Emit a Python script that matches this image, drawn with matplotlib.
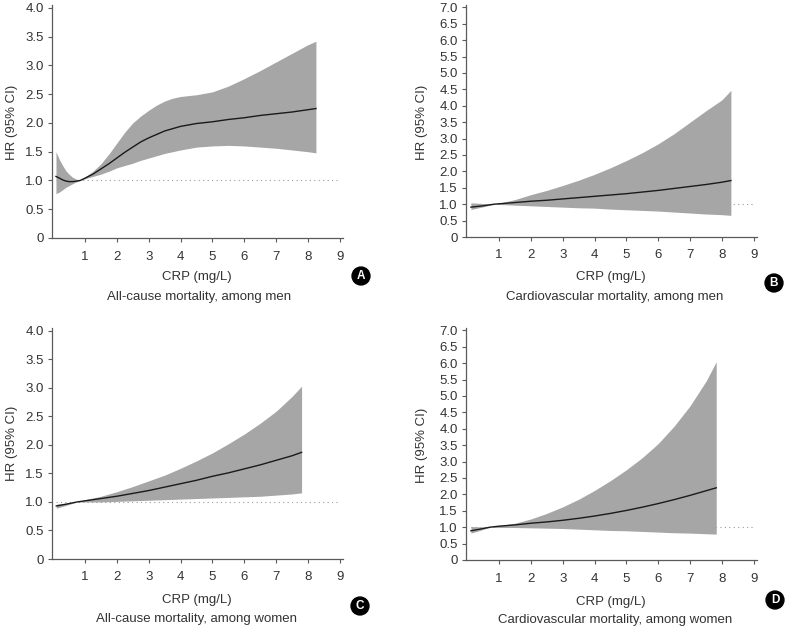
import matplotlib.pyplot as plt

plt.rcParams['font.family'] = ['Liberation Sans', 'DejaVu Sans']

# ---- data ----
# A: all-cause mortality, men
xa = [0.09, 0.2, 0.3, 0.4, 0.5, 0.6, 0.7, 0.85, 1.0, 1.25, 1.5, 1.75, 2.0, 2.25, 2.5,
      2.75, 3.0, 3.25, 3.5, 3.75, 4.0, 4.5, 5.0, 5.5, 6.0, 6.5, 7.0, 7.5, 8.0, 8.25]
hr_a = [1.07, 1.04, 1.01, 0.99, 0.98, 0.98, 0.985, 1.0, 1.04, 1.11, 1.20, 1.29, 1.39, 1.49, 1.58,
        1.67, 1.74, 1.80, 1.86, 1.90, 1.94, 1.99, 2.02, 2.06, 2.09, 2.13, 2.16, 2.19, 2.23, 2.25]
up_a = [1.50, 1.36, 1.26, 1.17, 1.11, 1.06, 1.03, 1.0, 1.06, 1.16, 1.29, 1.46, 1.65, 1.84, 2.00,
        2.12, 2.22, 2.31, 2.38, 2.43, 2.46, 2.49, 2.54, 2.64, 2.77, 2.91, 3.06, 3.21, 3.36, 3.42]
lo_a = [0.77, 0.80, 0.84, 0.88, 0.91, 0.94, 0.97, 1.0, 1.03, 1.07, 1.11, 1.16, 1.22, 1.26, 1.30,
        1.35, 1.39, 1.43, 1.47, 1.50, 1.53, 1.58, 1.60, 1.61, 1.60, 1.58, 1.56, 1.53, 1.50, 1.48]

# B: cardiovascular mortality, men
xb = [0.12, 0.5, 0.85, 1.5, 2.0, 2.5, 3.0, 3.5, 4.0, 4.5, 5.0, 5.5, 6.0, 6.5, 7.0, 7.5, 8.0, 8.28]
hr_b = [0.91, 0.95, 1.0, 1.05, 1.09, 1.12, 1.16, 1.20, 1.24, 1.28, 1.32, 1.37, 1.42, 1.48,
        1.54, 1.60, 1.67, 1.72]
up_b = [1.04, 1.02, 1.0, 1.14, 1.29, 1.42, 1.57, 1.73, 1.91, 2.11, 2.33, 2.57, 2.84, 3.15,
        3.50, 3.85, 4.18, 4.47]
lo_b = [0.84, 0.92, 1.0, 0.97, 0.95, 0.93, 0.91, 0.89, 0.88, 0.85, 0.83, 0.81, 0.79, 0.76,
        0.73, 0.70, 0.68, 0.66]

# C: all-cause mortality, women
xc = [0.1, 0.4, 0.75, 1.0, 1.5, 2.0, 2.5, 3.0, 3.5, 4.0, 4.5, 5.0, 5.5, 6.0, 6.5, 7.0, 7.5, 7.8]
hr_c = [0.93, 0.96, 1.0, 1.02, 1.06, 1.10, 1.15, 1.20, 1.26, 1.32, 1.38, 1.45, 1.51, 1.58,
        1.65, 1.73, 1.81, 1.87]
up_c = [0.96, 0.98, 1.0, 1.04, 1.10, 1.18, 1.27, 1.37, 1.47, 1.59, 1.72, 1.86, 2.02, 2.19,
        2.38, 2.59, 2.85, 3.03]
lo_c = [0.89, 0.94, 1.0, 1.0, 1.0, 1.01, 1.02, 1.03, 1.04, 1.05, 1.06, 1.07, 1.08, 1.09,
        1.10, 1.12, 1.14, 1.16]

# D: cardiovascular mortality, women
xd = [0.12, 0.4, 0.72, 1.0, 1.5, 2.0, 2.5, 3.0, 3.5, 4.0, 4.5, 5.0, 5.5, 6.0, 6.5, 7.0, 7.5, 7.82]
hr_d = [0.89, 0.94, 1.0, 1.03, 1.07, 1.12, 1.16, 1.21, 1.27, 1.34, 1.42, 1.51, 1.61, 1.72,
        1.84, 1.97, 2.11, 2.20]
up_d = [1.02, 1.01, 1.0, 1.05, 1.12, 1.25, 1.42, 1.62, 1.85, 2.12, 2.42, 2.75, 3.12, 3.55,
        4.08, 4.70, 5.45, 6.04]
lo_d = [0.82, 0.90, 1.0, 0.99, 0.99, 0.98, 0.97, 0.96, 0.94, 0.92, 0.90, 0.89, 0.87, 0.85,
        0.83, 0.82, 0.80, 0.79]

x_ticks = [1, 2, 3, 4, 5, 6, 7, 8, 9]
y_ticks_4 = [0, 0.5, 1.0, 1.5, 2.0, 2.5, 3.0, 3.5, 4.0]
y_labels_4 = ['0', '0.5', '1.0', '1.5', '2.0', '2.5', '3.0', '3.5', '4.0']
y_ticks_7 = [0, 0.5, 1.0, 1.5, 2.0, 2.5, 3.0, 3.5, 4.0, 4.5, 5.0, 5.5, 6.0, 6.5, 7.0]
y_labels_7 = ['0', '0.5', '1.0', '1.5', '2.0', '2.5', '3.0', '3.5', '4.0',
              '4.5', '5.0', '5.5', '6.0', '6.5', '7.0']

subtitles = ['All-cause mortality, among men', 'Cardiovascular mortality, among men',
             'All-cause mortality, among women', 'Cardiovascular mortality, among women']
letters = ['A', 'B', 'C', 'D']

W, H = 787, 630
fig = plt.figure(figsize=(W / 100, H / 100), dpi=100)


def fx(px):
    return px / W


def fy(py):
    return 1 - py / H


AX = '#5a5a5a'
TXT = '#333333'
BAND = '#a6a6a6'

panels = [
    # data, yticks, ylabels, ymax, axes rect (px: left, top, right, bottom), text positions
    ((xa, hr_a, up_a, lo_a), y_ticks_4, y_labels_4, 4.05, (52, 5, 343, 238),
     dict(ylab=(12, 122), xlab=(197, 277), sub=(199, 297), let=(361, 276))),
    ((xb, hr_b, up_b, lo_b), y_ticks_7, y_labels_7, 7.07, (466, 5, 757, 237),
     dict(ylab=(422, 122), xlab=(611, 277), sub=(615, 297), let=(774, 283))),
    ((xc, hr_c, up_c, lo_c), y_ticks_4, y_labels_4, 4.05, (52, 328, 343, 559),
     dict(ylab=(12, 443), xlab=(197, 600), sub=(197, 619), let=(360, 606))),
    ((xd, hr_d, up_d, lo_d), y_ticks_7, y_labels_7, 7.07, (466, 328, 757, 560),
     dict(ylab=(422, 445), xlab=(611, 602), sub=(615, 620), let=(775, 600))),
]

for i, (d, yt, yl, ymax, (l, t, r, b), pos) in enumerate(panels):
    x, hr, up, lo = d
    ax = fig.add_axes([fx(l), fy(b), (r - l) / W, (b - t) / H])
    ax.hlines(1.0, x[0], 9, colors='#9a9a9a', linestyles=(0, (1, 3)), linewidth=0.8, zorder=1)
    ax.fill_between(x, lo, up, color=BAND, linewidth=0, zorder=2)
    ax.plot(x, hr, color='#1a1a1a', linewidth=1.0, zorder=3)

    ax.set_xlim(-0.035, 9.1)
    ax.set_ylim(0, ymax)
    ax.set_xticks(x_ticks)
    ax.set_yticks(yt)
    ax.set_yticklabels(yl)
    for s in ['top', 'right']:
        ax.spines[s].set_visible(False)
    for s in ['left', 'bottom']:
        ax.spines[s].set_color(AX)
        ax.spines[s].set_linewidth(0.9)
    ax.tick_params(direction='out', length=3, width=0.8, color=AX, labelcolor=TXT,
                   labelsize=9.5, pad=3)
    ax.tick_params(axis='x', pad=6)

    fig.text(fx(pos['ylab'][0]), fy(pos['ylab'][1]), 'HR (95% CI)', rotation=90,
             ha='center', va='center', fontsize=9.5, color=TXT)
    fig.text(fx(pos['xlab'][0]), fy(pos['xlab'][1]), 'CRP (mg/L)',
             ha='center', va='center', fontsize=9.5, color=TXT)
    fig.text(fx(pos['sub'][0]), fy(pos['sub'][1]), subtitles[i],
             ha='center', va='center', fontsize=9.5, color=TXT)
    fig.text(fx(pos['let'][0]), fy(pos['let'][1]), letters[i], ha='center', va='center',
             fontsize=8.5, fontweight='bold', color='white',
             bbox=dict(boxstyle='circle,pad=0.25', fc='black', ec='black'))

fig.savefig('out.png', dpi=100)
